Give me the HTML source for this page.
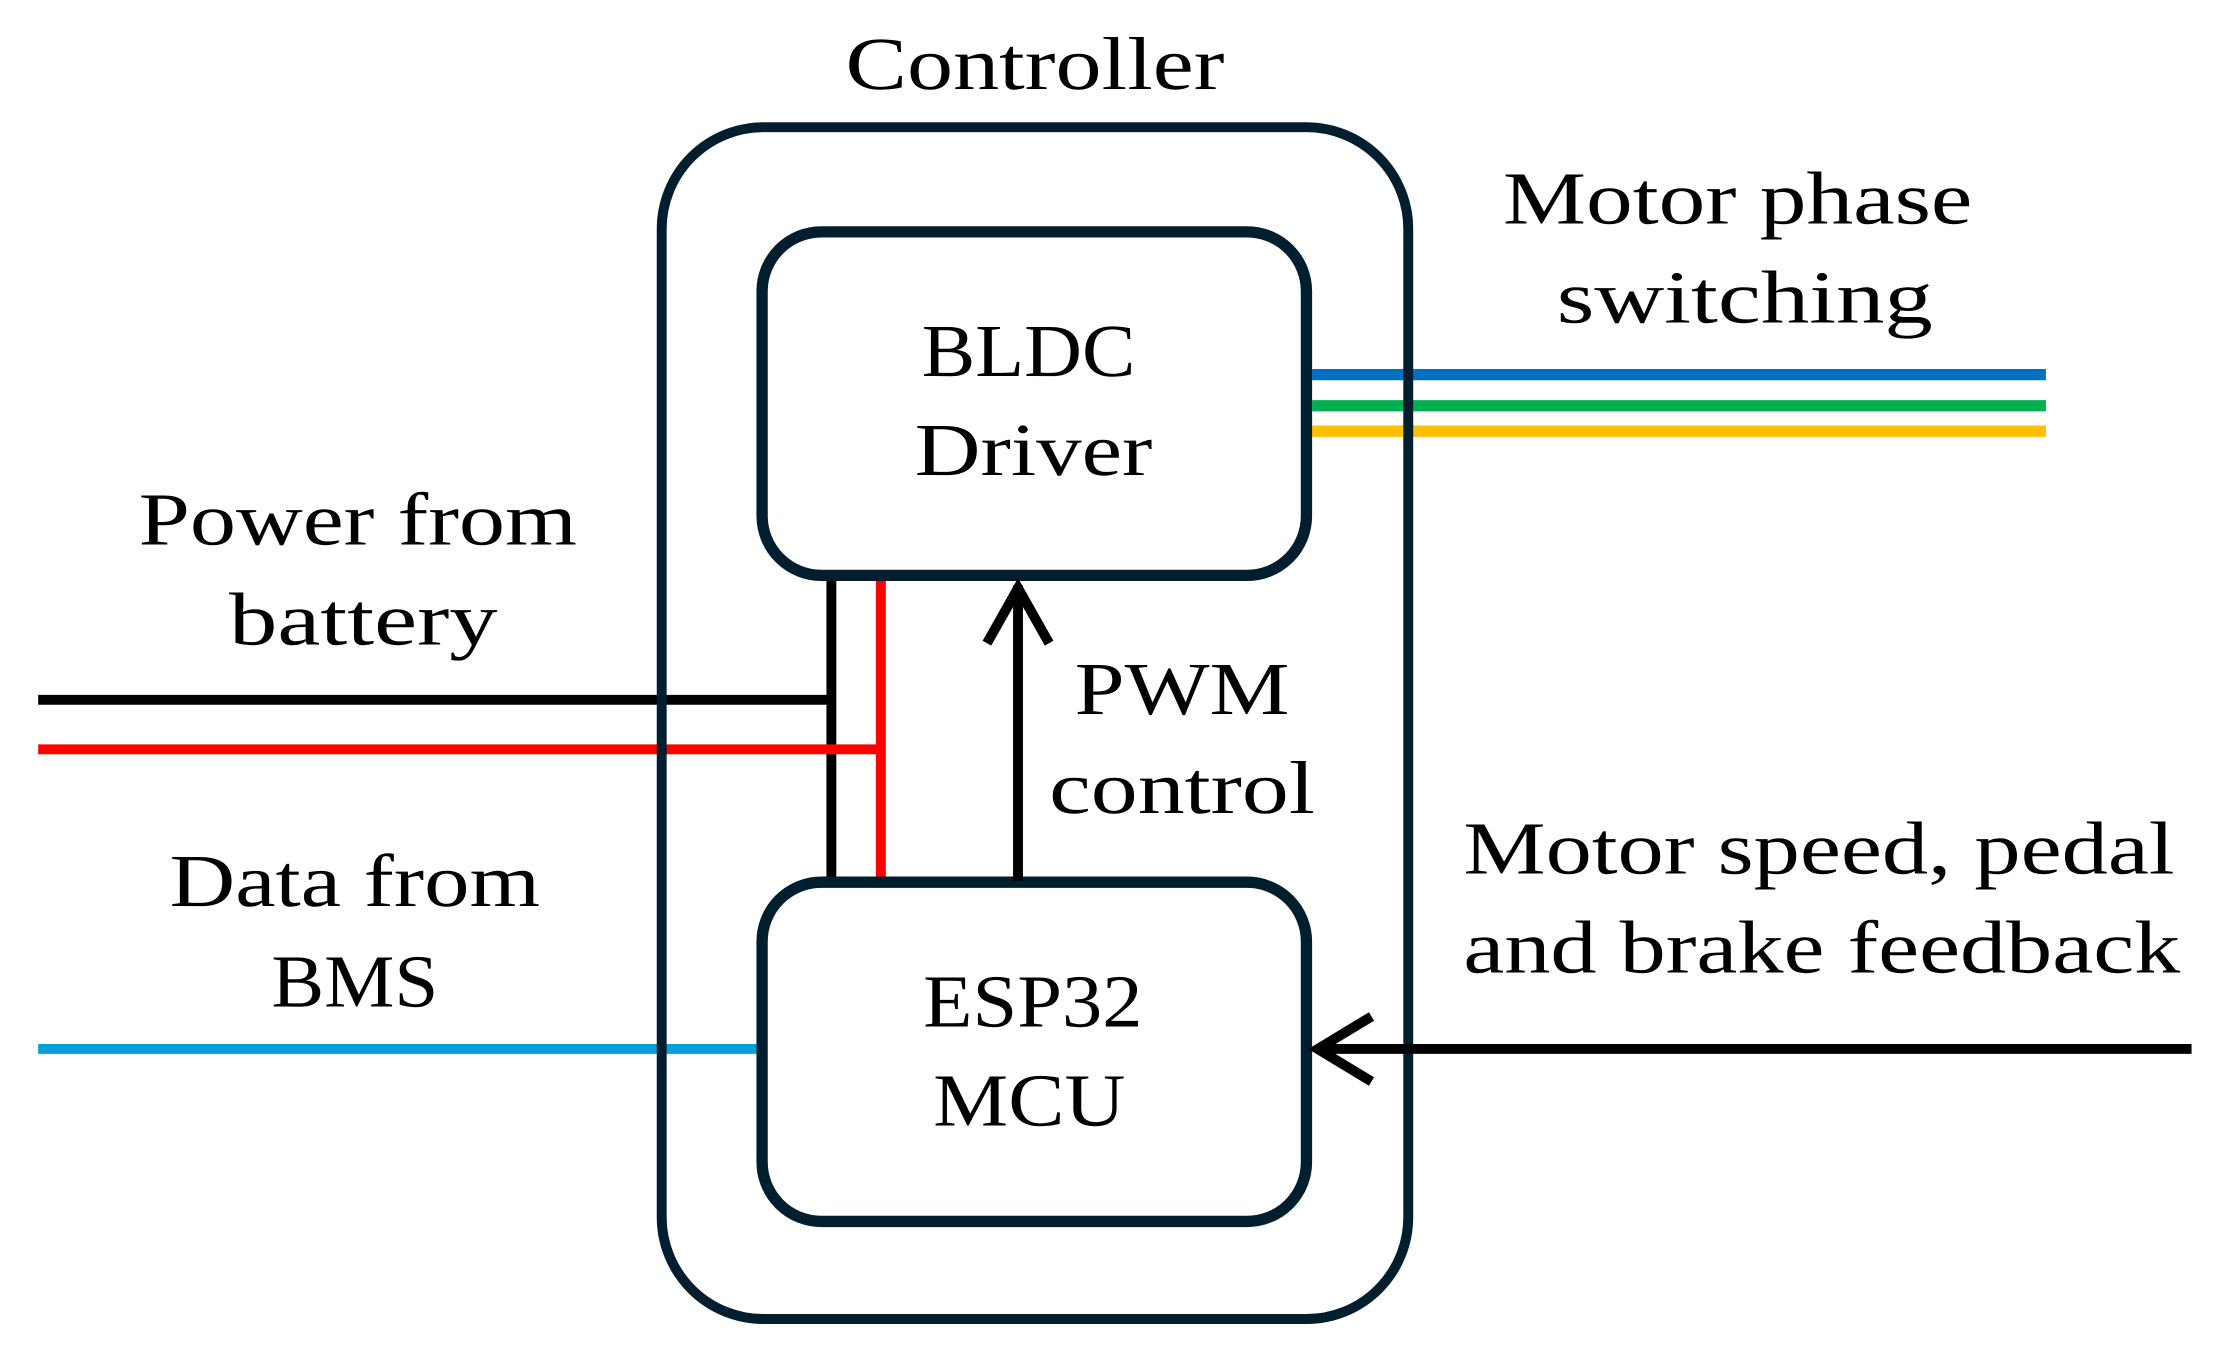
<!DOCTYPE html>
<html><head><meta charset="utf-8"><style>
html,body{margin:0;padding:0;background:#fff;}
svg{display:block;}
text{font-family:"Liberation Serif",serif;font-size:53px;fill:#000;}
</style></head><body>
<svg width="2217" height="1360" viewBox="0 0 1568 962" preserveAspectRatio="none" xmlns="http://www.w3.org/2000/svg">
<g fill="none" stroke-linecap="butt">
<line x1="928" y1="265" x2="1447" y2="265" stroke="#0070c0" stroke-width="8"/>
<line x1="928" y1="287" x2="1447" y2="287" stroke="#00b050" stroke-width="8"/>
<line x1="928" y1="305" x2="1447" y2="305" stroke="#ffc000" stroke-width="8"/>
<polyline points="27,495 588,495" stroke="#000" stroke-width="7"/>
<line x1="588" y1="408" x2="588" y2="623" stroke="#000" stroke-width="7"/>
<polyline points="27,530 623,530" stroke="#ff0000" stroke-width="7"/>
<line x1="623" y1="408" x2="623" y2="623" stroke="#ff0000" stroke-width="7"/>
<line x1="27" y1="742" x2="538" y2="742" stroke="#00a0d8" stroke-width="7"/>
<rect x="468" y="90" width="528" height="843" rx="72" stroke="#001e2e" stroke-width="7"/>
<rect x="539" y="164" width="385" height="243" rx="42" fill="#fff" stroke="#001e2e" stroke-width="8"/>
<rect x="539" y="624" width="385" height="240" rx="42" fill="#fff" stroke="#001e2e" stroke-width="8"/>
<line x1="720" y1="623" x2="720" y2="414" stroke="#000" stroke-width="7"/>
<polyline points="698,455 720,416 742,455" stroke="#000" stroke-width="7"/>
<line x1="1550" y1="742" x2="932" y2="742" stroke="#000" stroke-width="7"/>
<polyline points="970,719 932,742 970,765" stroke="#000" stroke-width="7"/>
</g>
<g text-rendering="geometricPrecision">
<text x="598" y="63" textLength="268" lengthAdjust="spacingAndGlyphs">Controller</text>
<text x="652" y="266" textLength="151" lengthAdjust="spacingAndGlyphs">BLDC</text>
<text x="647" y="336" textLength="168" lengthAdjust="spacingAndGlyphs">Driver</text>
<text x="653" y="726" textLength="155" lengthAdjust="spacingAndGlyphs">ESP32</text>
<text x="660" y="796" textLength="136" lengthAdjust="spacingAndGlyphs">MCU</text>
<text x="1063" y="158" textLength="332" lengthAdjust="spacingAndGlyphs">Motor phase</text>
<text x="1101" y="228" textLength="266" lengthAdjust="spacingAndGlyphs">switching</text>
<text x="98" y="385" textLength="310" lengthAdjust="spacingAndGlyphs">Power from</text>
<text x="162" y="456" textLength="190" lengthAdjust="spacingAndGlyphs">battery</text>
<text x="120" y="641" textLength="262" lengthAdjust="spacingAndGlyphs">Data from</text>
<text x="192" y="712" textLength="118" lengthAdjust="spacingAndGlyphs">BMS</text>
<text x="760" y="505" textLength="152" lengthAdjust="spacingAndGlyphs">PWM</text>
<text x="742" y="575" textLength="188" lengthAdjust="spacingAndGlyphs">control</text>
<text x="1035" y="618" textLength="503" lengthAdjust="spacingAndGlyphs">Motor speed, pedal</text>
<text x="1035" y="688" textLength="507" lengthAdjust="spacingAndGlyphs">and brake feedback</text>
</g>
</svg>
</body></html>
